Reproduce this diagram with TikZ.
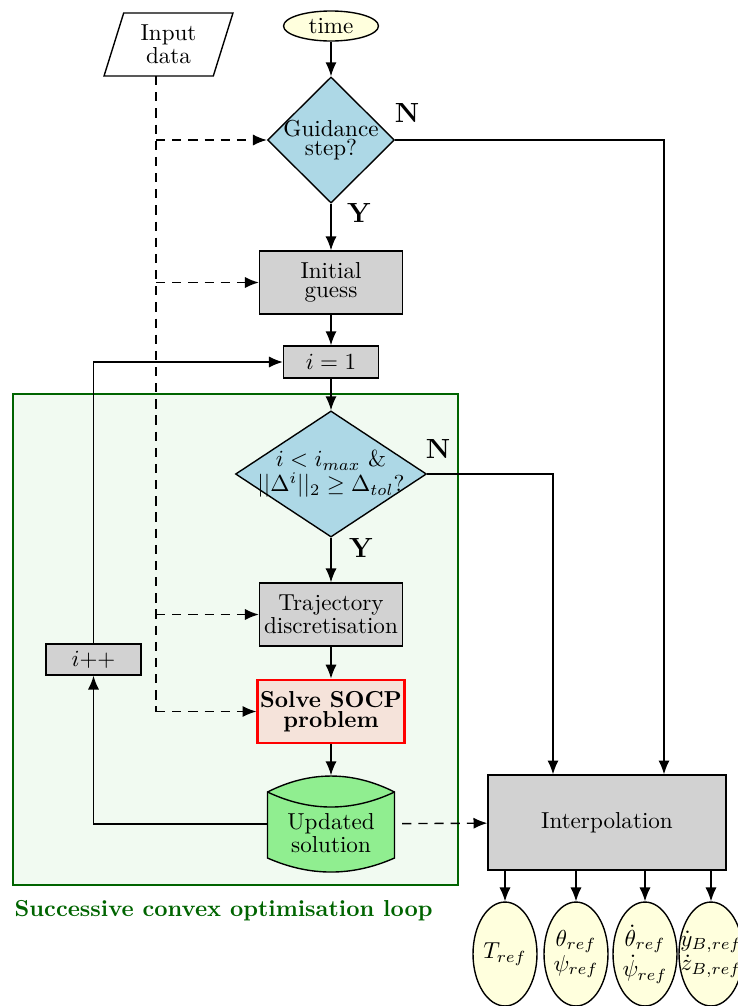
\documentclass[tikz,border=0pt]{standalone}
\usetikzlibrary{shapes.geometric,arrows.meta,calc}
\definecolor{decfill}{RGB}{173,216,230}
\definecolor{procfill}{RGB}{210,210,210}
\definecolor{outfill}{RGB}{255,255,221}
\definecolor{solvefill}{RGB}{245,227,218}
\definecolor{updfill}{RGB}{144,238,144}
\definecolor{loopgreen}{RGB}{0,100,0}
\definecolor{loopfill}{RGB}{241,250,241}

\begin{document}
\begin{tikzpicture}[x=0.433pt, y=-0.433pt, semithick,
  every node/.style={font=\fontsize{10pt}{8.5pt}\selectfont},
  arr/.style={-{Latex[length=6pt,width=4.8pt]}},
  feed/.style={dash pattern=on 4pt off 3pt},
  proc/.style={draw, fill=procfill, align=center, inner sep=1pt},
  decision/.style={diamond, draw, fill=decfill, inner sep=0pt, minimum height=54.6pt},
  outvar/.style={ellipse, draw, fill=outfill, inner sep=0pt,
    minimum width=27.7pt, minimum height=45pt},
  answer/.style={font=\large\bfseries}]
\useasboundingbox (0,0) rectangle (737,1006);

% loop frame
\draw[thick, draw=loopgreen, fill=loopfill] (13,394) rectangle (458,885);
\node[anchor=west, inner sep=0pt, text=loopgreen, font=\bfseries] (looplbl) at (14,911)
  {Successive convex optimisation loop};

\node[trapezium, trapezium left angle=73, trapezium right angle=107,
  trapezium stretches=true, draw, align=center, inner sep=1pt,
  minimum width=55.9pt, minimum height=27.3pt] (input) at (168.5,44.5) {Input\\data};
\node[ellipse, draw, fill=outfill, inner sep=0pt,
  minimum width=41.1pt, minimum height=13pt] (time) at (331,26) {time};
\node[decision, minimum width=55pt,
  label={[align=center]center:Guidance\\step?}] (guid) at (331,140) {};
\node[proc, minimum width=61.9pt, minimum height=27.3pt] (init) at (331,282.5) {Initial\\guess};
\node[proc, minimum width=41.1pt, minimum height=13.9pt] (ione) at (331,362) {$i=1$};
\node[decision, minimum width=82.7pt,
  label={[align=center]center:$i<i_{max}$ \&\\$||\Delta^i||_2\geq\Delta_{tol}$?}] (chk) at (331,474) {};
\node[proc, minimum width=61.9pt, minimum height=27.3pt] (traj) at (331,614.5) {Trajectory\\discretisation};
\node[proc, draw=red, very thick, fill=solvefill, font=\fontsize{10pt}{8.5pt}\selectfont\bfseries,
  minimum width=61.5pt, minimum height=27.3pt] (solve) at (331,711.5) {Solve SOCP\\problem};
\node[proc, minimum width=41.1pt, minimum height=13.4pt] (ipp) at (93.5,659.5) {$i$++};
\node[proc, minimum width=103pt, minimum height=41.1pt] (interp) at (607,822.5) {Interpolation};

% updated solution drum
\coordinate (updc) at (331,824);
\begin{scope}[shift={(updc)}]
\draw[fill=updfill] (-63.5,-32) .. controls (-21.2,-53.3) and (21.2,-53.3) .. (63.5,-32)
  -- (63.5,34) .. controls (21.2,52.7) and (-21.2,52.7) .. (-63.5,34) -- cycle;
\draw (-63.5,-32) .. controls (-21.2,-12) and (21.2,-12) .. (63.5,-32);
\end{scope}
\node[inner sep=0pt, minimum width=55pt, minimum height=41.6pt,
  label={[align=center,yshift=-4pt]center:Updated\\solution}] (upd) at (updc) {};

\node[answer] (n1) at (407,113) {N};
\node[answer] (y1) at (359,213) {Y};
\node[answer] (n2) at (438,449) {N};
\node[answer] (y2) at (361,548) {Y};

\draw[arr] (time) -- (guid);
\draw[arr] (guid) -- (init);
\draw[arr] (init) -- (ione);
\draw[arr] (ione) -- (chk);
\draw[arr] (chk) -- (traj);
\draw[arr] (traj) -- (solve);
\draw[arr] (solve) -- (upd);
\draw[arr] (guid.east) -| ($(interp.north)+(57,0)$);
\draw[arr] (chk.east) -| ($(interp.north)+(-54,0)$);
\draw[arr] (upd.west) -| (ipp);
\draw[arr] (ipp) |- (ione);
\draw[arr, feed, shorten <=3pt] (upd) -- (interp);

% input data feeds
\coordinate (dtop) at (156,76);
\draw[feed] (dtop) -- (dtop |- solve.west);
\foreach \n in {guid,init,traj,solve}{
  \draw[arr, feed] (dtop |- \n.west) -- (\n.west);
}

% outputs
\foreach \nm/\xx/\txt in {o1/505/{$T_{ref}$},
    o2/576/{$\theta_{ref}$\\$\psi_{ref}$},
    o3/645/{$\dot\theta_{ref}$\\$\dot\psi_{ref}$},
    o4/711/{$\dot y_{B,ref}$\\$\dot z_{B,ref}$}}{
  \node[outvar, label={[align=center]center:\txt}] (\nm) at (\xx,954) {};
  \draw[arr] (\nm |- interp.south) -- (\nm);
}
\end{tikzpicture}
\end{document}
